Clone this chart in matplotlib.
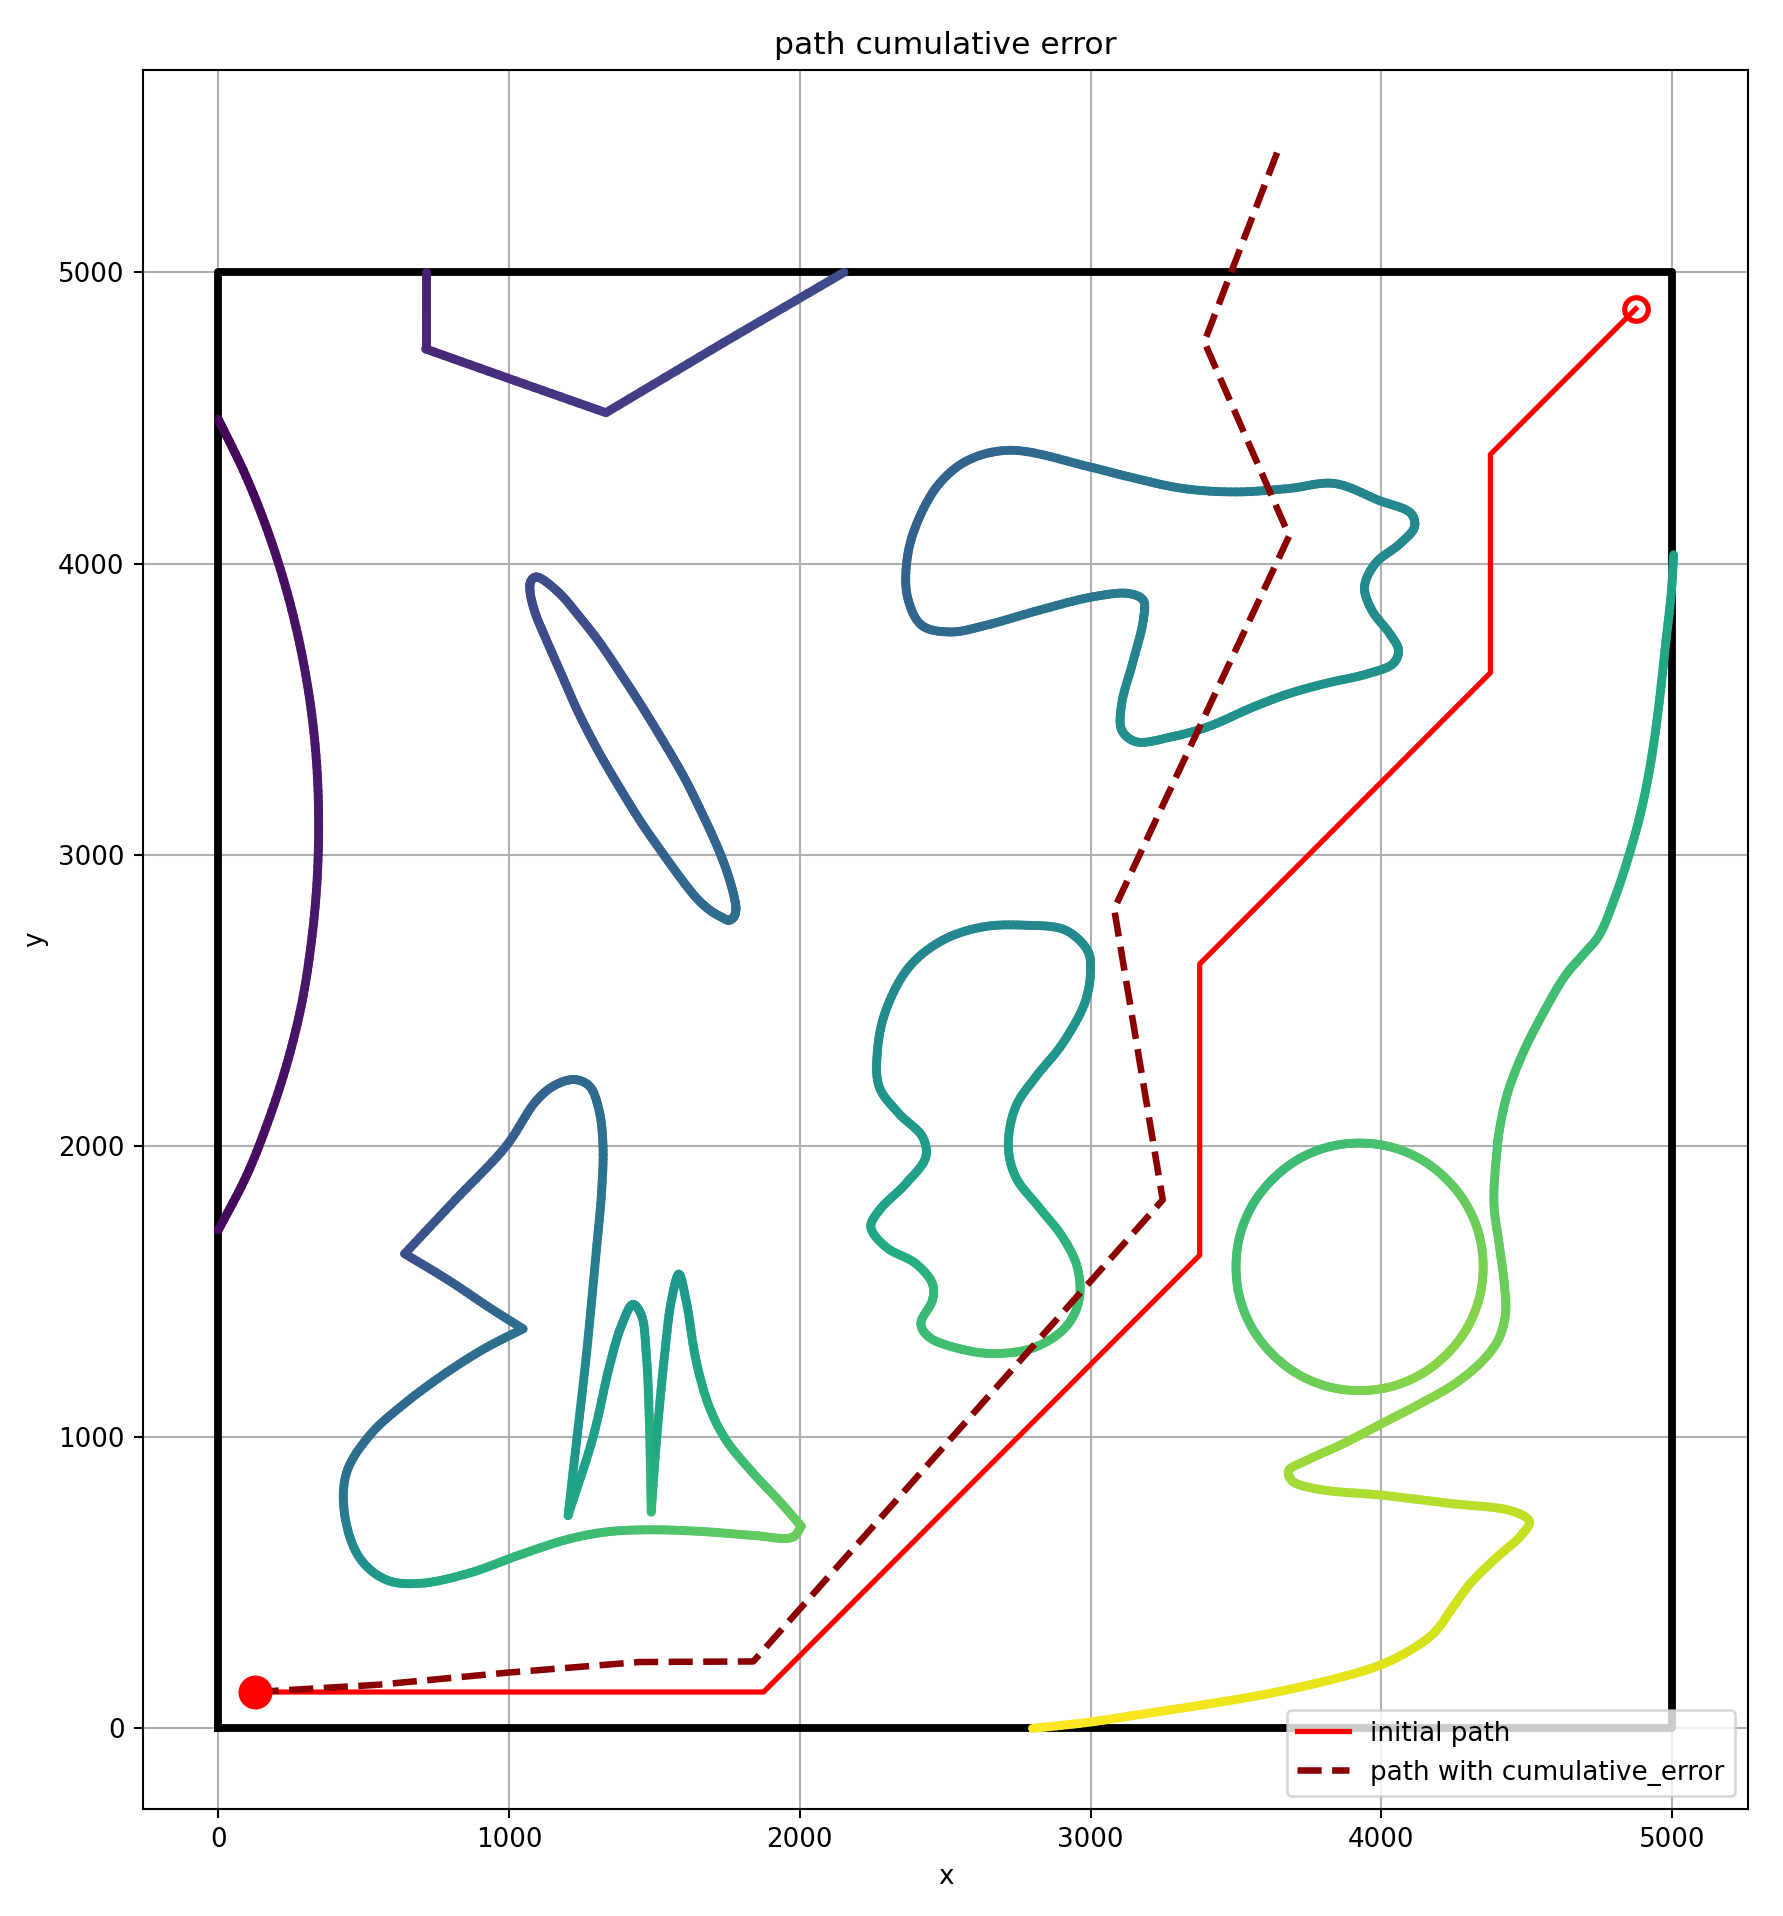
import numpy as np
import matplotlib
matplotlib.use("Agg")
import matplotlib.pyplot as plt
from matplotlib.collections import LineCollection
from matplotlib.colors import Normalize

# ---- data ----

# map boundary
border_x = [0, 5000, 5000, 0, 0]
border_y = [0, 0, 5000, 5000, 0]

# planned path and the same path with cumulative error
init_x = [125, 1875, 3375, 3375, 4375, 4375, 4875]
init_y = [125, 125, 1625, 2625, 3625, 4375, 4875]
err_x = [125, 550, 1000, 1450, 1840, 3248, 3081, 3683, 3391, 3646]
err_y = [125, 150, 192, 228, 230, 1815, 2814, 4095, 4761, 5423]

# obstacles: x, y and colour value (viridis 0..1)
arc_x = [0, 95, 174, 237, 285, 319, 339, 345, 339, 320, 289, 241, 177, 98, 0]
arc_y = [4496, 4300, 4100, 3900, 3700, 3500, 3300, 3100, 2900, 2700, 2500, 2300, 2100, 1900, 1711]
arc_c = [0.01, 0.02, 0.03, 0.04, 0.05, 0.06, 0.06, 0.07, 0.07, 0.06, 0.06, 0.05, 0.04, 0.03, 0.03]

poly_x = [713, 713, 1023, 1333, 1740, 2152]
poly_y = [5000, 4737, 4627, 4518, 4760, 5000]
poly_c = [0.09, 0.11, 0.14, 0.17, 0.20, 0.23]

ell_x = [1094, 1167, 1240, 1312, 1385, 1457, 1530, 1601, 1660, 1717, 1750, 1775, 1780, 1772, 1755, 1732, 1690, 1645, 1590, 1529, 1455, 1384, 1310, 1239, 1180, 1123, 1090, 1072, 1075]
ell_y = [3954, 3904, 3820, 3728, 3620, 3509, 3390, 3268, 3150, 3026, 2940, 2851, 2810, 2785, 2775, 2785, 2810, 2851, 2920, 3004, 3110, 3224, 3350, 3487, 3620, 3750, 3830, 3904, 3940]
ell_c = [0.22, 0.23, 0.23, 0.24, 0.25, 0.26, 0.27, 0.29, 0.30, 0.32, 0.33, 0.35, 0.35, 0.36, 0.36, 0.36, 0.35, 0.34, 0.33, 0.31, 0.30, 0.28, 0.27, 0.25, 0.24, 0.23, 0.23, 0.22, 0.22]

ll_x = [641, 815, 990, 1094, 1160, 1226, 1277, 1310, 1323, 1318, 1300, 1266, 1231, 1203,
        1289, 1346, 1386, 1426, 1455, 1472, 1481, 1487, 1489,
        1506, 1535, 1558, 1584, 1609, 1644, 1690, 1747, 1838, 1930, 2005,
        1976, 1838, 1667, 1495, 1346, 1208, 1037, 865, 693, 578, 487, 435, 441, 521, 636, 785, 922, 1048,
        940, 790]
ll_y = [1630, 1815, 2000, 2156, 2210, 2228, 2205, 2120, 2000, 1840, 1640, 1284, 977, 731,
        1001, 1247, 1382, 1456, 1419, 1284, 1100, 854, 743,
        977, 1284, 1468, 1560, 1468, 1259, 1100, 989, 878, 780, 694,
        657, 663, 676, 682, 676, 651, 596, 534, 498, 510, 584, 731, 878, 1007, 1112, 1222, 1308, 1372,
        1440, 1540]
ll_c = [0.24, 0.27, 0.29, 0.31, 0.32, 0.33, 0.34, 0.35, 0.37, 0.39, 0.41, 0.46, 0.52, 0.60,
        0.56, 0.53, 0.52, 0.52, 0.53, 0.56, 0.60, 0.65, 0.67,
        0.60, 0.55, 0.53, 0.52, 0.54, 0.58, 0.62, 0.66, 0.70, 0.74, 0.77,
        0.77, 0.76, 0.74, 0.72, 0.70, 0.68, 0.66, 0.63, 0.60, 0.56, 0.50, 0.42, 0.37, 0.35, 0.34, 0.35, 0.36, 0.37,
        0.33, 0.28]
ll_corners = [0, 13, 22, 33, 51]

mid_x = [2777, 2914, 2989, 3000, 2983, 2903, 2811, 2742, 2717, 2742, 2822, 2903, 2954, 2960, 2914, 2811,
         2674, 2548, 2444, 2416, 2456, 2456, 2399, 2296, 2244, 2273, 2365, 2433, 2422, 2341, 2273, 2267,
         2296, 2376, 2490, 2628]
mid_y = [2758, 2741, 2672, 2615, 2500, 2351, 2237, 2134, 2000, 1894, 1790, 1688, 1584, 1470, 1378, 1310,
         1287, 1304, 1344, 1390, 1470, 1527, 1596, 1653, 1722, 1779, 1871, 1962, 2031, 2111, 2203, 2329,
         2466, 2615, 2706, 2752]
mid_c = [0.46, 0.47, 0.48, 0.49, 0.50, 0.52, 0.53, 0.54, 0.56, 0.58, 0.61, 0.64, 0.67, 0.69, 0.70, 0.71,
         0.71, 0.70, 0.69, 0.68, 0.67, 0.66, 0.63, 0.61, 0.60, 0.58, 0.57, 0.56, 0.55, 0.53, 0.51, 0.49,
         0.48, 0.47, 0.46, 0.46]

up_x = [2726, 2996, 3131, 3316, 3500, 3684, 3838, 3991, 4102, 4114, 4065, 3979, 3942, 3967, 4028, 4059,
        4041, 3955, 3807, 3684, 3561, 3402, 3279, 3156, 3107, 3107, 3144, 3181, 3181, 3131, 3009, 2824,
        2640, 2517, 2419, 2370, 2370, 2407, 2480, 2579]
up_y = [4389, 4332, 4298, 4258, 4246, 4258, 4275, 4217, 4172, 4126, 4069, 4000, 3920, 3840, 3760, 3702,
        3657, 3622, 3588, 3554, 3508, 3439, 3405, 3388, 3428, 3519, 3657, 3805, 3874, 3897, 3886, 3840,
        3788, 3765, 3788, 3886, 4023, 4149, 4275, 4355]
up_c = [0.33, 0.36, 0.38, 0.40, 0.42, 0.43, 0.44, 0.46, 0.47, 0.47, 0.47, 0.47, 0.48, 0.48, 0.49, 0.50,
        0.50, 0.50, 0.50, 0.50, 0.50, 0.50, 0.50, 0.50, 0.49, 0.48, 0.46, 0.44, 0.43, 0.42, 0.40, 0.38,
        0.36, 0.34, 0.33, 0.32, 0.31, 0.31, 0.32, 0.32]

circ_x = [4350, 4336, 4293, 4225, 4138, 4035, 3925, 3815, 3712, 3625, 3557, 3514,
          3500, 3514, 3557, 3625, 3712, 3815, 3925, 4035, 4138, 4225, 4293, 4336]
circ_y = [1585, 1695, 1798, 1885, 1953, 1996, 2010, 1996, 1953, 1885, 1798, 1695,
          1585, 1475, 1372, 1285, 1217, 1174, 1160, 1174, 1217, 1285, 1372, 1475]
circ_c = [0.80, 0.78, 0.77, 0.75, 0.73, 0.72, 0.70, 0.69, 0.69, 0.68, 0.68, 0.69,
          0.70, 0.72, 0.73, 0.75, 0.77, 0.78, 0.80, 0.81, 0.82, 0.82, 0.82, 0.81]

right_x = [5005, 4997, 4977, 4955, 4927, 4893, 4852, 4805, 4748, 4691, 4633, 4553, 4485, 4433, 4404,
           4399, 4387, 4405, 4423, 4427, 4405, 4356, 4258, 4135, 4000, 3865, 3742, 3681, 3693, 3779,
           4000, 4233, 4454, 4509, 4479, 4393, 4307, 4245, 4184, 4110, 4000, 3865, 3620, 3374, 3150,
           3000, 2800]
right_y = [4030, 3900, 3720, 3520, 3320, 3150, 3000, 2858, 2722, 2654, 2586, 2450, 2315, 2179, 2043,
           2000, 1804, 1663, 1523, 1425, 1341, 1271, 1187, 1116, 1046, 976, 920, 885, 850, 822,
           801, 773, 745, 710, 661, 584, 499, 415, 331, 275, 219, 177, 121, 79, 45,
           22, 0]
right_c = [0.57, 0.58, 0.59, 0.60, 0.61, 0.62, 0.63, 0.64, 0.67, 0.68, 0.69, 0.70, 0.70, 0.71, 0.72,
           0.72, 0.74, 0.76, 0.77, 0.78, 0.79, 0.80, 0.81, 0.82, 0.83, 0.84, 0.85, 0.86, 0.86, 0.87,
           0.88, 0.89, 0.90, 0.90, 0.91, 0.92, 0.92, 0.93, 0.93, 0.94, 0.95, 0.96, 0.97, 0.98, 0.99,
           0.99, 1.00]


# centripetal catmull-rom between p1 and p2 (only used to draw a smooth stroke
# through the points read off the picture)
def cr_segment(p0, p1, p2, p3, n=10):
    t0 = 0.0
    t1 = t0 + max(np.hypot(*(p1[:2] - p0[:2])), 1e-6) ** 0.5
    t2 = t1 + max(np.hypot(*(p2[:2] - p1[:2])), 1e-6) ** 0.5
    t3 = t2 + max(np.hypot(*(p3[:2] - p2[:2])), 1e-6) ** 0.5
    t = np.linspace(t1, t2, n + 1)[1:, None]
    a1 = (t1 - t) / (t1 - t0) * p0[:2] + (t - t0) / (t1 - t0) * p1[:2]
    a2 = (t2 - t) / (t2 - t1) * p1[:2] + (t - t1) / (t2 - t1) * p2[:2]
    a3 = (t3 - t) / (t3 - t2) * p2[:2] + (t - t2) / (t3 - t2) * p3[:2]
    b1 = (t2 - t) / (t2 - t0) * a1 + (t - t0) / (t2 - t0) * a2
    b2 = (t3 - t) / (t3 - t1) * a2 + (t - t1) / (t3 - t1) * a3
    xy = (t2 - t) / (t2 - t1) * b1 + (t - t1) / (t2 - t1) * b2
    s = (t - t1) / (t2 - t1)
    return np.hstack([xy, p1[2] + s * (p2[2] - p1[2])])


def smooth_open(P):
    ext = np.vstack([2 * P[0] - P[1], P, 2 * P[-1] - P[-2]])
    out = [P[:1]]
    for i in range(len(P) - 1):
        out.append(cr_segment(*ext[i:i + 4]))
    return np.vstack(out)


def smooth_closed(P):
    ring = np.vstack([P[-1:], P, P[:2]])
    out = [P[:1]]
    for i in range(len(P)):
        out.append(cr_segment(*ring[i:i + 4]))
    return np.vstack(out)


def draw_obstacle(ax, xs, ys, cs, closed=False, corners=None):
    P = np.column_stack([xs, ys, cs]).astype(float)
    if closed and not corners:
        pts = smooth_closed(P)
    else:
        if closed:
            k = corners[0]
            P = np.vstack([P[k:], P[:k], P[k:k + 1]])
            corners = [(c - k) % (len(P) - 1) for c in corners] + [len(P) - 1]
        elif corners is None:
            corners = [0, len(P) - 1]
        corners = sorted(set(corners))
        pieces = []
        for a, b in zip(corners[:-1], corners[1:]):
            piece = smooth_open(P[a:b + 1])
            pieces.append(piece[1:] if pieces else piece)
        pts = np.vstack(pieces)
    segs = np.stack([pts[:-1, :2], pts[1:, :2]], axis=1)
    lc = LineCollection(segs, cmap="viridis", norm=Normalize(0, 1),
                        linewidths=3.4, capstyle="round", joinstyle="round")
    lc.set_array((pts[:-1, 2] + pts[1:, 2]) / 2)
    ax.add_collection(lc)


fig = plt.figure(figsize=(1783 / 188, 1916 / 188), dpi=188)
ax = fig.add_axes([0.0802, 0.0558, 0.9002, 0.9077])

ax.plot(border_x, border_y, color="black", lw=3)

draw_obstacle(ax, arc_x, arc_y, arc_c)
draw_obstacle(ax, poly_x, poly_y, poly_c, corners=list(range(len(poly_x))))
draw_obstacle(ax, ell_x, ell_y, ell_c, closed=True)
draw_obstacle(ax, ll_x, ll_y, ll_c, closed=True, corners=ll_corners)
draw_obstacle(ax, mid_x, mid_y, mid_c, closed=True)
draw_obstacle(ax, up_x, up_y, up_c, closed=True)
draw_obstacle(ax, circ_x, circ_y, circ_c, closed=True)
draw_obstacle(ax, right_x, right_y, right_c)

ax.plot(init_x, init_y, color="red", lw=2, label="initial path")
ax.plot(err_x, err_y, color="darkred", lw=2.5, ls="--", label="path with cumulative_error")
ax.plot(init_x[0], init_y[0], "o", color="red", ms=12)
ax.plot(init_x[-1], init_y[-1], "o", mfc="none", mec="red", mew=2, ms=9)

ax.set_xlim(-259, 5261)
ax.set_ylim(-277, 5695)
ax.set_xticks([0, 1000, 2000, 3000, 4000, 5000])
ax.set_yticks([0, 1000, 2000, 3000, 4000, 5000])
ax.grid(True)
ax.set_xlabel("x")
ax.set_ylabel("y")
ax.set_title("path cumulative error")
ax.legend(loc="lower right")

fig.savefig("out.png", dpi=188)
